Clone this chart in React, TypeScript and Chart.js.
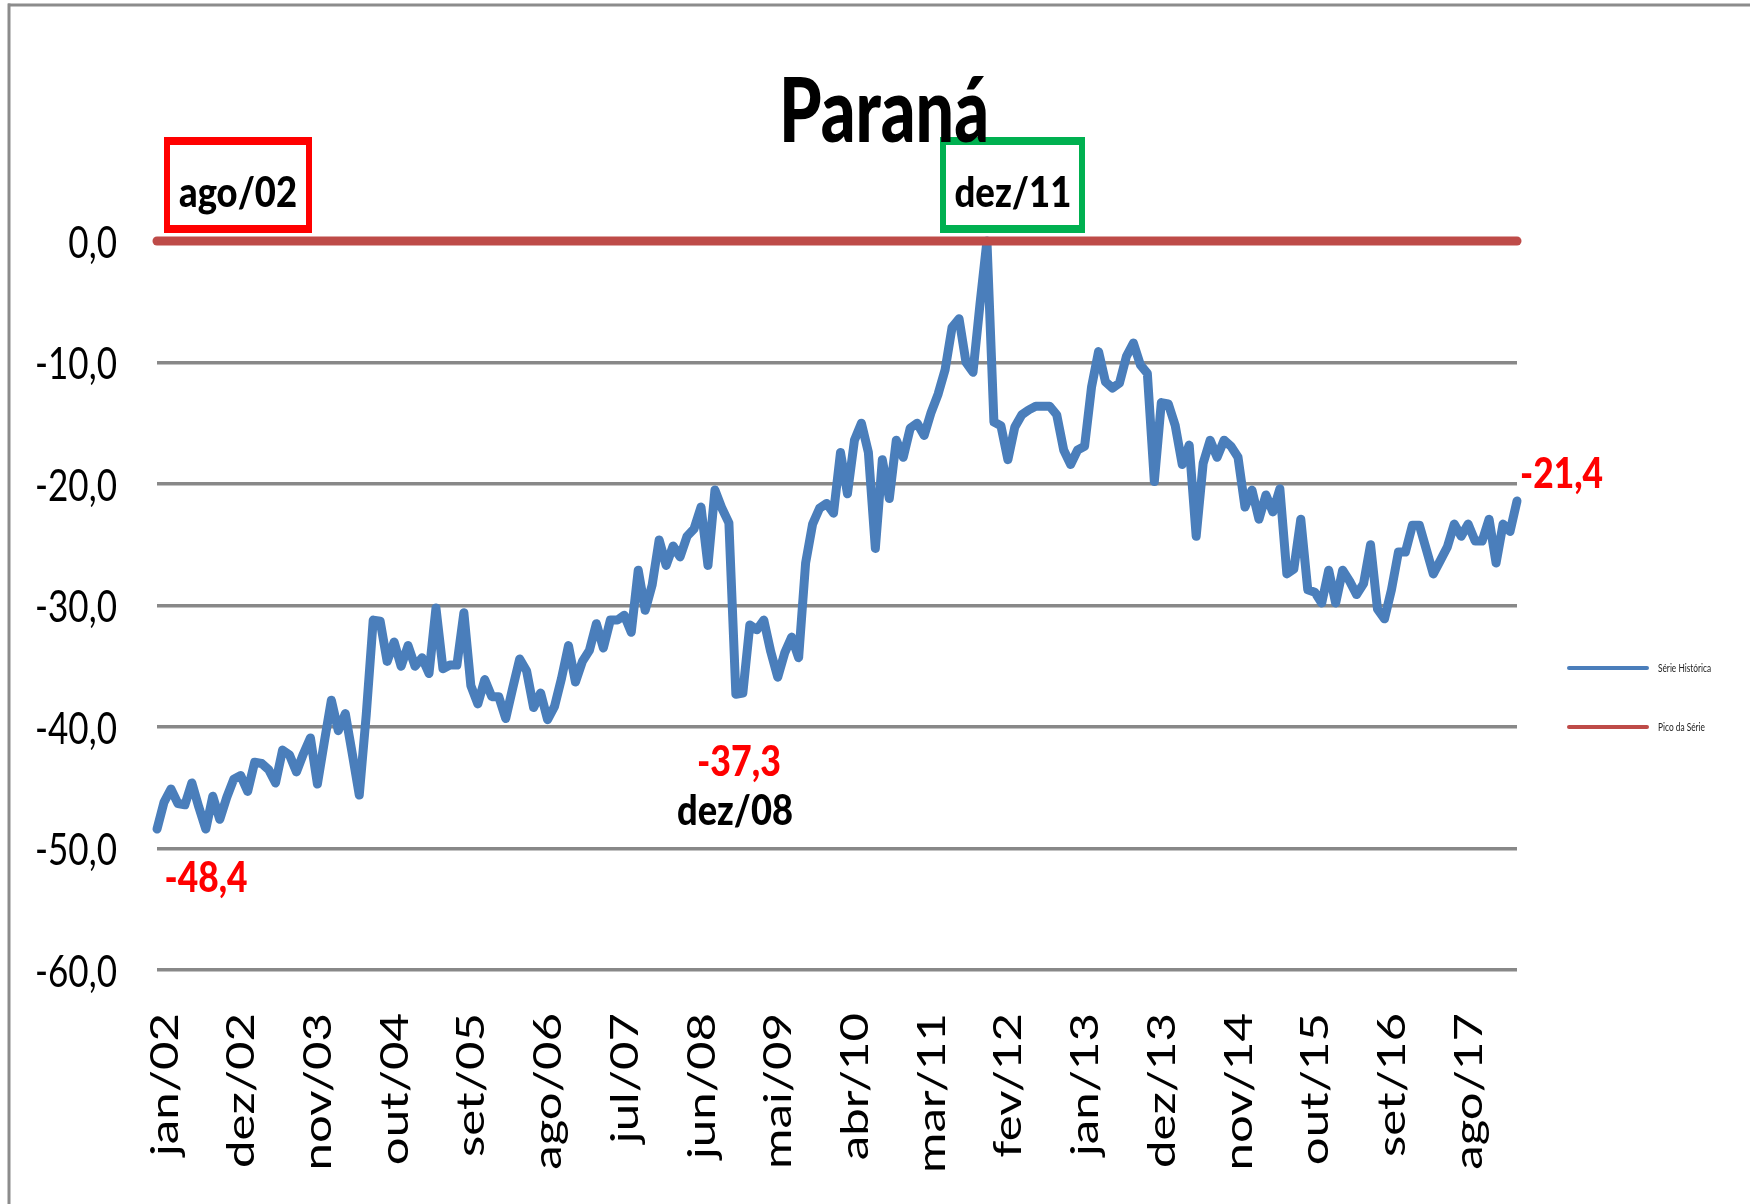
import React, { useEffect, useRef } from 'react';
import { Chart, registerables } from 'chart.js';

Chart.register(...registerables);

// ---------- data ----------
const MONTHS = ['jan', 'fev', 'mar', 'abr', 'mai', 'jun', 'jul', 'ago', 'set', 'out', 'nov', 'dez'];
const START_YEAR = 2; // jan/02

const HISTORICAL = [
  -48.4, -46.2, -45.1, -46.3, -46.4, -44.6, -46.6, -48.4, -45.7, -47.6, -45.8, -44.3,
  -44.0, -45.3, -42.9, -43.0, -43.5, -44.6, -41.9, -42.3, -43.7, -42.2, -40.9, -44.7,
  -41.2, -37.8, -40.3, -38.9, -42.2, -45.6, -39.0, -31.2, -31.3, -34.6, -33.0, -35.0,
  -33.3, -35.0, -34.3, -35.6, -30.2, -35.2, -34.9, -34.9, -30.6, -36.6, -38.1, -36.1,
  -37.5, -37.5, -39.3, -36.8, -34.4, -35.4, -38.4, -37.2, -39.4, -38.3, -36.0, -33.3,
  -36.3, -34.6, -33.7, -31.5, -33.5, -31.2, -31.2, -30.8, -32.2, -27.1, -30.4, -28.3,
  -24.6, -26.7, -25.1, -26.0, -24.3, -23.7, -21.9, -26.7, -20.5, -22.0, -23.2, -37.3,
  -37.2, -31.6, -32.0, -31.2, -33.8, -35.9, -33.9, -32.6, -34.3, -26.5, -23.3, -22.0,
  -21.6, -22.4, -17.4, -20.8, -16.4, -15.0, -17.4, -25.3, -18.0, -21.2, -16.4, -17.8,
  -15.4, -15.0, -16.0, -14.1, -12.6, -10.6, -7.1, -6.4, -10.0, -10.8, -5.2, 0.0,
  -14.9, -15.2, -18.0, -15.3, -14.3, -13.9, -13.6, -13.6, -13.6, -14.3, -17.2, -18.4,
  -17.2, -16.9, -12.0, -9.1, -11.6, -12.1, -11.7, -9.5, -8.4, -10.2, -10.9, -19.8,
  -13.3, -13.4, -15.2, -18.4, -16.8, -24.3, -18.3, -16.4, -17.8, -16.4, -16.9, -17.8,
  -21.9, -20.5, -22.9, -20.9, -22.3, -20.4, -27.4, -27.0, -22.9, -28.7, -28.9, -29.8,
  -27.1, -29.8, -27.1, -28.0, -29.1, -28.2, -25.0, -30.3, -31.1, -28.7, -25.6, -25.6,
  -23.4, -23.4, -25.4, -27.4, -26.3, -25.2, -23.3, -24.3, -23.3, -24.7, -24.7, -22.9,
  -26.5, -23.3, -23.9, -21.4,
];
const PEAK_VALUE = 0.0;
const Y_TICKS = [0, -10, -20, -30, -40, -50, -60];
const TICK_STEP = 11;

const TITLE = 'Paraná';
const SERIES_NAMES = ['Série Histórica', 'Pico da Série'];
const START_BOX_LABEL = 'ago/02';
const PEAK_BOX_LABEL = 'dez/11';
const TROUGH_LABEL = 'dez/08';

const CATEGORIES = HISTORICAL.map(
  (_, i) => `${MONTHS[i % 12]}/${String(START_YEAR + Math.floor(i / 12)).padStart(2, '0')}`
);
const PEAK_SERIES = HISTORICAL.map(() => PEAK_VALUE);

// ---------- styles ----------
const BLUE = '#4a7ebb';
const RED_LINE = '#be4b48';
const GRID = '#888888';
const FONT = 'Lato, "Open Sans", sans-serif';

const fmt = (v: number) => v.toFixed(1).replace('.', ',');

function setFont(ctx: CanvasRenderingContext2D, weight: string, capH: number, ref: string) {
  ctx.font = `${weight} 100px ${FONT}`;
  const r = ctx.measureText(ref).actualBoundingBoxAscent / 100;
  ctx.font = `${weight} ${capH / r}px ${FONT}`;
}

type TextOpts = {
  weight?: string;
  capH: number;
  color?: string;
  align?: CanvasTextAlign;
  width?: number;
  sx?: number;
  rotate?: number;
  ref?: string;
};

function drawText(ctx: CanvasRenderingContext2D, text: string, x: number, y: number, o: TextOpts) {
  setFont(ctx, o.weight || '400', o.capH, o.ref || '0');
  const w = ctx.measureText(text).width;
  const sx = o.width ? o.width / w : o.sx ?? 1;
  ctx.save();
  ctx.translate(x, y);
  if (o.rotate) ctx.rotate(o.rotate);
  ctx.scale(sx, 1);
  ctx.textAlign = o.align || 'left';
  ctx.textBaseline = 'alphabetic';
  ctx.fillStyle = o.color || '#000';
  ctx.fillText(text, 0, 0);
  ctx.restore();
}

function scaleFor(ctx: CanvasRenderingContext2D, text: string, weight: string, capH: number, target: number) {
  setFont(ctx, weight, capH, '0');
  return target / ctx.measureText(text).width;
}

function frameRect(
  ctx: CanvasRenderingContext2D,
  x0: number, y0: number, x1: number, y1: number,
  tH: number, tV: number, color: string
) {
  ctx.fillStyle = color;
  ctx.fillRect(x0, y0, x1 - x0, tV);
  ctx.fillRect(x0, y1 - tV, x1 - x0, tV);
  ctx.fillRect(x0, y0, tH, y1 - y0);
  ctx.fillRect(x1 - tH, y0, tH, y1 - y0);
}

const overlayPlugin = {
  id: 'overlay',
  afterDraw(chart: any) {
    const ctx: CanvasRenderingContext2D = chart.ctx;
    const xs = chart.scales.x;
    const ys = chart.scales.y;
    ctx.save();

    // outer frame (partially visible)
    ctx.fillStyle = '#8c8c8c';
    ctx.fillRect(8, 3.5, 1750, 3);
    ctx.fillRect(7.5, 3.5, 3, 1204);

    // y tick labels
    const yCap = 33;
    const sxY = scaleFor(ctx, '-10,0', '400', yCap, 82);
    for (const v of Y_TICKS) {
      const y = ys.getPixelForValue(v);
      drawText(ctx, fmt(v), 117, y + yCap / 2, { capH: yCap, sx: sxY, align: 'right' });
    }

    // x tick labels (rotated)
    const xCap = 29;
    const sxX = scaleFor(ctx, 'jan/02', '400', xCap, 143);
    for (let i = 0; i < CATEGORIES.length; i += TICK_STEP) {
      const x = xs.getPixelForValue(i);
      drawText(ctx, CATEGORIES[i], x + 6 + xCap / 2, 1013, {
        capH: xCap, sx: sxX, align: 'right', rotate: -Math.PI / 2,
      });
    }

    // boxes
    frameRect(ctx, 164, 137, 312, 233, 6, 8, '#ff0000');
    frameRect(ctx, 940, 137, 1085, 233, 6, 8, '#00b050');
    drawText(ctx, START_BOX_LABEL, 238, 207, { weight: '900', capH: 30, width: 118, align: 'center' });
    drawText(ctx, PEAK_BOX_LABEL, 1013, 207, { weight: '900', capH: 30, width: 117, align: 'center' });

    // title
    drawText(ctx, TITLE, 884, 142, { weight: '900', capH: 64, width: 210, align: 'center', ref: 'P' });

    // value annotations
    const first = HISTORICAL[0];
    const last = HISTORICAL[HISTORICAL.length - 1];
    const troughI = CATEGORIES.indexOf(TROUGH_LABEL);
    drawText(ctx, fmt(first), 206, 892, { weight: '900', capH: 31, width: 83, align: 'center', color: '#ff0000' });
    drawText(ctx, fmt(HISTORICAL[troughI]), 739, 776, { weight: '900', capH: 31, width: 84, align: 'center', color: '#ff0000' });
    drawText(ctx, CATEGORIES[troughI], 735, 825, { weight: '900', capH: 31, width: 116, align: 'center' });
    drawText(ctx, fmt(last), 1520, 488, { weight: '900', capH: 31, width: 83, align: 'left', color: '#ff0000' });

    // legend
    const legend = [
      { name: SERIES_NAMES[0], color: BLUE, y: 668, w: 53 },
      { name: SERIES_NAMES[1], color: RED_LINE, y: 727, w: 47 },
    ];
    for (const l of legend) {
      ctx.strokeStyle = l.color;
      ctx.lineWidth = 4;
      ctx.lineCap = 'round';
      ctx.beginPath();
      ctx.moveTo(1569, l.y);
      ctx.lineTo(1647, l.y);
      ctx.stroke();
      drawText(ctx, l.name, 1658, l.y + 4, { capH: 8, width: l.w, align: 'left', color: '#222', ref: 'H' });
    }
    ctx.restore();
  },
};

export default function App() {
  const ref = useRef<HTMLCanvasElement>(null);
  useEffect(() => {
    if (!ref.current) return;
    const chart = new Chart(ref.current, {
      type: 'line',
      data: {
        labels: CATEGORIES,
        datasets: [
          {
            label: SERIES_NAMES[0],
            data: HISTORICAL,
            borderColor: BLUE,
            borderWidth: 9,
            pointRadius: 0,
            tension: 0,
            borderJoinStyle: 'round',
            borderCapStyle: 'round',
            clip: false as any,
            order: 1,
          },
          {
            label: SERIES_NAMES[1],
            data: PEAK_SERIES,
            borderColor: RED_LINE,
            borderWidth: 9,
            pointRadius: 0,
            tension: 0,
            borderCapStyle: 'round',
            clip: false as any,
            order: 0,
          },
        ],
      },
      options: {
        responsive: false,
        maintainAspectRatio: false,
        devicePixelRatio: 1,
        animation: false,
        events: [],
        layout: { autoPadding: false, padding: { left: 157, right: 233, top: 241, bottom: 234 } },
        plugins: { legend: { display: false }, tooltip: { enabled: false }, title: { display: false } },
        scales: {
          x: {
            type: 'category',
            offset: false,
            grid: { display: false, drawTicks: false },
            border: { display: false },
            ticks: { display: false },
          },
          y: {
            min: -60,
            max: 0,
            grid: { color: GRID, lineWidth: 3.5, drawTicks: false },
            border: { display: false },
            ticks: { display: false, stepSize: 10 },
          },
        },
      },
      plugins: [overlayPlugin],
    });
    return () => chart.destroy();
  }, []);
  return (
    <div style={{ position: 'absolute', left: 0, top: 0, width: 1750, height: 1204, background: '#fff' }}>
      <canvas ref={ref} width={1750} height={1204} />
    </div>
  );
}
